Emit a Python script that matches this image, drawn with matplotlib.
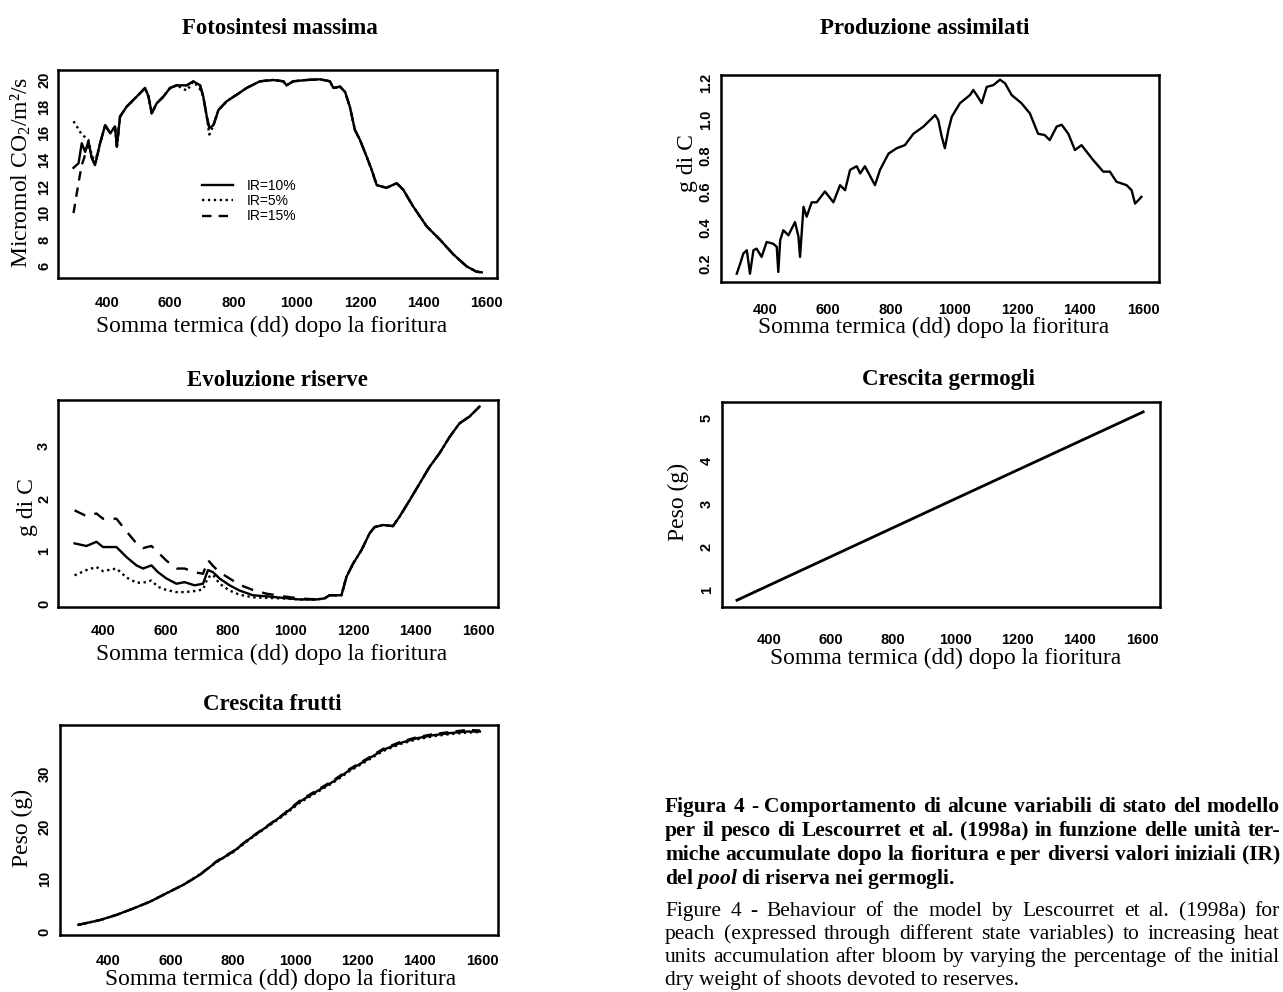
import matplotlib
matplotlib.use("Agg")
import matplotlib.pyplot as plt

# ---- data ----
x_ticks = [400, 600, 800, 1000, 1200, 1400, 1600]
ir_labels = ["IR=10%", "IR=5%", "IR=15%"]

# Fotosintesi massima (micromol CO2/m2/s)
fs_x = [295, 311, 321, 332, 342, 352, 363, 379, 395, 411, 426, 432, 442, 463, 484,
        505, 521, 532, 542, 558, 579, 600, 621, 653, 674, 695, 705, 716, 724, 737,
        753, 779, 811, 842, 884, 926, 958, 968, 989, 1032, 1074, 1105, 1116, 1137, 1153,
        1168, 1184, 1200, 1221, 1237, 1253, 1284, 1316, 1337, 1368, 1411, 1453, 1495, 1537, 1568,
        1585]
fs_10 = [13.4, 13.75, 15.25, 14.6, 15.4, 14.2, 13.6, 15.25, 16.6, 16.0, 16.5, 15.0, 17.25, 18.0, 18.5,
         19.0, 19.4, 18.75, 17.5, 18.25, 18.75, 19.4, 19.6, 19.6, 19.9, 19.6, 18.75, 17.25, 16.4, 16.6,
         17.75, 18.4, 18.9, 19.4, 19.9, 20.0, 19.9, 19.6, 19.9, 20.0, 20.05, 19.9, 19.4, 19.5, 19.1,
         18.0, 16.25, 15.5, 14.25, 13.25, 12.1, 11.9, 12.25, 11.75, 10.5, 9.0, 8.0, 6.9, 6.0, 5.6,
         5.55]
fs_5 = [16.9, 16.3, 15.9, 15.7, 15.5, 14.4, 13.8, 15.25, 16.6, 16.0, 16.5, 15.0, 17.25, 18.0, 18.5,
        19.0, 19.4, 18.75, 17.5, 18.25, 18.75, 19.4, 19.6, 19.2, 19.9, 19.3, 18.75, 17.25, 15.9, 16.6,
        17.75, 18.4, 18.9, 19.4, 19.9, 20.0, 19.9, 19.6, 19.9, 20.0, 20.05, 19.9, 19.4, 19.5, 19.1,
        18.0, 16.25, 15.5, 14.25, 13.25, 12.1, 11.9, 12.25, 11.75, 10.5, 9.0, 8.0, 6.9, 6.0, 5.6,
        5.55]
fs_15 = [10.0, 12.3, 13.6, 14.4, 15.2, 14.2, 13.6, 15.25, 16.6, 16.0, 16.5, 15.0, 17.25, 18.0, 18.5,
         19.0, 19.4, 18.75, 17.5, 18.25, 18.75, 19.4, 19.6, 19.6, 19.9, 19.6, 18.75, 17.25, 16.4, 16.6,
         17.75, 18.4, 18.9, 19.4, 19.9, 20.0, 19.9, 19.6, 19.9, 20.0, 20.05, 19.9, 19.4, 19.5, 19.1,
         18.0, 16.25, 15.5, 14.25, 13.25, 12.1, 11.9, 12.25, 11.75, 10.5, 9.0, 8.0, 6.9, 6.0, 5.6,
         5.55]

# Produzione assimilati (g di C)
pa_x = [310, 321, 331, 342, 352, 363, 373, 389, 405, 426, 437, 442, 448, 458, 474,
        495, 506, 511, 522, 532, 548, 564, 590, 617, 638, 654, 670, 691, 702, 717,
        749, 765, 792, 818, 844, 871, 903, 940, 950, 961, 971, 982, 993, 1019, 1051,
        1061, 1072, 1088, 1104, 1125, 1146, 1162, 1183, 1214, 1241, 1267, 1288, 1304, 1326, 1342,
        1363, 1384, 1405, 1442, 1474, 1495, 1516, 1548, 1564, 1575, 1590, 1595]
pa_y = [0.144, 0.2, 0.256, 0.274, 0.144, 0.274, 0.283, 0.237, 0.32, 0.31, 0.293, 0.154, 0.33, 0.385, 0.357,
        0.43, 0.35, 0.237, 0.515, 0.46, 0.54, 0.54, 0.6, 0.54, 0.635, 0.607, 0.72, 0.74, 0.7, 0.74,
        0.635, 0.72, 0.81, 0.84, 0.857, 0.92, 0.96, 1.024, 0.996, 0.904, 0.84, 0.94, 1.015, 1.09, 1.135,
        1.163, 1.135, 1.09, 1.18, 1.19, 1.22, 1.2, 1.135, 1.09, 1.033, 0.92, 0.913, 0.885, 0.96, 0.97,
        0.92, 0.83, 0.857, 0.774, 0.71, 0.71, 0.654, 0.635, 0.607, 0.533, 0.56, 0.57]

# Evoluzione riserve (g di C)
er_x = [309, 347, 379, 400, 443, 475, 507, 528, 555, 576, 603, 635, 661, 693, 720,
        736, 752, 773, 805, 837, 880, 923, 976, 1029, 1083, 1109, 1125, 1163, 1179, 1200,
        1227, 1253, 1269, 1296, 1328, 1349, 1381, 1413, 1445, 1477, 1509, 1541, 1573, 1605]
er_10 = [1.15, 1.1, 1.18, 1.08, 1.08, 0.89, 0.73, 0.67, 0.73, 0.6, 0.48, 0.38, 0.41, 0.35, 0.38,
         0.64, 0.6, 0.48, 0.35, 0.25, 0.16, 0.14, 0.11, 0.08, 0.08, 0.1, 0.16, 0.16, 0.51, 0.76,
         1.02, 1.34, 1.46, 1.5, 1.48, 1.66, 1.97, 2.29, 2.61, 2.87, 3.18, 3.44, 3.57, 3.76]
er_5 = [0.54, 0.64, 0.7, 0.62, 0.67, 0.5, 0.4, 0.4, 0.44, 0.32, 0.26, 0.22, 0.22, 0.24, 0.27,
        0.5, 0.55, 0.38, 0.25, 0.17, 0.12, 0.11, 0.1, 0.08, 0.08, 0.1, 0.16, 0.16, 0.51, 0.76,
        1.02, 1.34, 1.46, 1.5, 1.48, 1.66, 1.97, 2.29, 2.61, 2.87, 3.18, 3.44, 3.57, 3.76]
er_15 = [1.78, 1.67, 1.72, 1.62, 1.62, 1.38, 1.15, 1.06, 1.1, 0.98, 0.82, 0.67, 0.67, 0.6, 0.57,
         0.83, 0.72, 0.6, 0.48, 0.36, 0.26, 0.19, 0.14, 0.1, 0.08, 0.1, 0.16, 0.16, 0.51, 0.76,
         1.02, 1.34, 1.46, 1.5, 1.48, 1.66, 1.97, 2.29, 2.61, 2.87, 3.18, 3.44, 3.57, 3.76]

# Crescita germogli (peso g)
cg_x = [298, 1000, 1603]
cg_y = [0.77, 3.13, 5.15]

# Crescita frutti (peso g)
cf_x = [304, 373, 427, 480, 534, 587, 641, 694, 748, 801, 855, 908, 962, 1015, 1068,
        1122, 1175, 1229, 1282, 1336, 1389, 1443, 1496, 1550, 1593]
cf_10 = [1.3, 2.2, 3.2, 4.4, 5.7, 7.3, 8.9, 10.8, 13.3, 15.2, 17.7, 19.9, 22.2, 24.7, 26.6,
         28.5, 30.7, 32.6, 34.5, 35.8, 36.7, 37.3, 37.7, 38.0, 38.0]
cf_5 = [1.3, 2.2, 3.2, 4.4, 5.7, 7.3, 8.9, 10.9, 13.2, 15.1, 17.6, 19.8, 22.0, 24.5, 26.4,
        28.3, 30.5, 32.4, 34.3, 35.6, 36.5, 37.1, 37.5, 37.8, 37.9]
cf_15 = [1.3, 2.2, 3.2, 4.4, 5.7, 7.3, 8.9, 10.8, 13.4, 15.3, 17.8, 20.0, 22.3, 24.9, 26.8,
         28.7, 30.9, 32.8, 34.7, 36.0, 36.9, 37.5, 37.9, 38.3, 38.2]

cap_it = [
    "Figura 4 - Comportamento di alcune variabili di stato del modello",
    "per il pesco di Lescourret et al. (1998a) in funzione delle unità ter-",
    "miche accumulate dopo la fioritura e per diversi valori iniziali (IR)",
    "del $\\mathit{pool}$ di riserva nei germogli.",
]
cap_en = [
    "Figure 4 - Behaviour of the model by Lescourret et al. (1998a) for",
    "peach (expressed through different state variables) to increasing heat",
    "units accumulation after bloom by varying the percentage of the initial",
    "dry weight of shoots devoted to reserves.",
]

W, H = 1283, 992
SERIF = "Liberation Serif"
SANS = "Liberation Sans"

plt.rcParams["mathtext.fontset"] = "custom"
plt.rcParams["mathtext.rm"] = "Liberation Serif"
plt.rcParams["mathtext.it"] = "Liberation Serif:italic:bold"
plt.rcParams["mathtext.default"] = "regular"

fig = plt.figure(figsize=(W / 100, H / 100), dpi=100)
renderer = fig.canvas.get_renderer()


def box(l, t, r, b):
    return [l / W, 1 - b / H, (r - l) / W, (b - t) / H]


def style(ax, xlim, ylim, yticks, xpad, ypad, ylabels=None):
    ax.set_xlim(xlim)
    ax.set_ylim(ylim)
    ax.set_xticks(x_ticks)
    ax.set_yticks(yticks)
    if ylabels is not None:
        ax.set_yticklabels(ylabels)
    ax.tick_params(axis="x", length=0, pad=xpad)
    ax.tick_params(axis="y", length=0, pad=ypad, labelrotation=90)
    for lab in ax.get_xticklabels() + ax.get_yticklabels():
        lab.set_fontfamily(SANS)
        lab.set_fontweight("bold")
        lab.set_fontsize(10.5)
    for lab in ax.get_yticklabels():
        lab.set_va("center")
    for s in ax.spines.values():
        s.set_linewidth(1.8)


def title(x, y, s):
    fig.text(x / W, 1 - y / H, s, ha="center", va="center", fontsize=16.5,
             fontweight="bold", family=SERIF)


def xlab(x, y, s="Somma termica (dd) dopo la fioritura"):
    fig.text(x / W, 1 - y / H, s, ha="center", va="baseline", fontsize=16.8, family=SERIF)


def ylab(x, y, s):
    fig.text(x / W, 1 - y / H, s, ha="center", va="center", rotation=90,
             fontsize=17, family=SERIF)


def justified(lines, x0, x1, y0, dy, weight, size):
    # spread the words of every line but the last across x0..x1
    for i, line in enumerate(lines):
        y = 1 - (y0 + dy * i) / H
        if i == len(lines) - 1:
            fig.text(x0 / W, y, line, ha="left", va="baseline", fontsize=size,
                     fontweight=weight, family=SERIF)
            continue
        words = line.split()
        widths = []
        for w in words:
            t = fig.text(0, 0, w, fontsize=size, fontweight=weight, family=SERIF)
            widths.append(t.get_window_extent(renderer).width)
            t.remove()
        gap = (x1 - x0 - sum(widths)) / (len(words) - 1)
        x = x0
        for w, wd in zip(words, widths):
            fig.text(x / W, y, w, ha="left", va="baseline", fontsize=size,
                     fontweight=weight, family=SERIF)
            x += wd + gap


lw = 1.7

# Fotosintesi massima
ax1 = fig.add_axes(box(58, 70, 497, 278))
ax1.plot(fs_x, fs_10, color="black", lw=lw, ls="-", label=ir_labels[0])
ax1.plot(fs_x, fs_5, color="black", lw=lw, ls=(0, (1, 1.5)), label=ir_labels[1])
ax1.plot(fs_x, fs_15, color="black", lw=lw, ls=(0, (4, 3)), label=ir_labels[2])
style(ax1, (246, 1633), (5.125, 20.75), [6, 8, 10, 12, 14, 16, 18, 20], 13, 5)
ax1.legend(loc="center left", bbox_to_anchor=(0.30, 0.37), frameon=False,
           handlelength=2.2, handletextpad=1.0, labelspacing=0.1,
           prop={"family": SANS, "size": 10})
title(280, 28, "Fotosintesi massima")
xlab(272, 332)
ylab(21, 172, "Micromol CO$_2$/m²/s")

# Produzione assimilati
ax2 = fig.add_axes(box(721, 75, 1159, 282))
ax2.plot(pa_x, pa_y, color="black", lw=lw)
style(ax2, (260, 1651), (0.098, 1.246), [0.2, 0.4, 0.6, 0.8, 1.0, 1.2], 15, 6,
      ["0.2", "0.4", "0.6", "0.8", "1.0", "1.2"])
title(925, 28, "Produzione assimilati")
xlab(934, 333)
ylab(687, 163, "g di C")

# Evoluzione riserve
ax3 = fig.add_axes(box(58, 400, 498, 607))
ax3.plot(er_x, er_10, color="black", lw=lw, ls="-")
ax3.plot(er_x, er_5, color="black", lw=lw, ls=(0, (1, 1.5)))
ax3.plot(er_x, er_15, color="black", lw=lw, ls=(0, (5, 4)))
style(ax3, (256, 1664), (-0.064, 3.885), [0, 1, 2, 3], 12, 5)
title(277, 381, "Evoluzione riserve")
xlab(272, 660)
ylab(27, 507, "g di C")

# Crescita germogli
ax4 = fig.add_axes(box(722, 402, 1160, 607))
ax4.plot(cg_x, cg_y, color="black", lw=2.0)
style(ax4, (250, 1657), (0.612, 5.38), [1, 2, 3, 4, 5], 19, 6)
title(948, 380, "Crescita germogli")
xlab(946, 664)
ylab(678, 502, "Peso (g)")

# Crescita frutti
ax5 = fig.add_axes(box(60, 725, 498, 935))
ax5.plot(cf_x, cf_10, color="black", lw=lw, ls="-")
ax5.plot(cf_x, cf_5, color="black", lw=lw, ls=(0, (1, 1.5)))
ax5.plot(cf_x, cf_15, color="black", lw=lw, ls=(0, (4, 3)))
style(ax5, (245, 1651), (-0.63, 39.24), [0, 10, 20, 30], 14, 6)
title(272, 705, "Crescita frutti")
xlab(281, 985)
ylab(22, 828, "Peso (g)")

# caption, justified to the right edge of the page
justified(cap_it, 665, 1280, 812, 24, "bold", 15.5)
justified(cap_en, 665, 1280, 916, 23, "normal", 15.5)

fig.savefig("out.png", dpi=100)
